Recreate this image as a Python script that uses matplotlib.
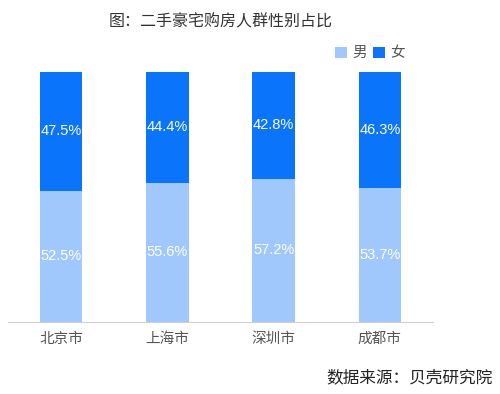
import matplotlib
matplotlib.use("Agg")
import matplotlib.pyplot as plt

plt.rcParams['font.family'] = ['Noto Sans CJK SC', 'DejaVu Sans']

cities = ['北京市', '上海市', '深圳市', '成都市']
male = [52.5, 55.6, 57.2, 53.7]
female = [47.5, 44.4, 42.8, 46.3]
series_names = ['男', '女']

c_male = '#a0c8fd'
c_female = '#0a74fb'

fig = plt.figure(figsize=(5, 3.94), dpi=100)
ax = fig.add_axes([0.016, 0.1827, 0.85, 0.635])
x = range(len(cities))
b1 = ax.bar(x, male, width=0.4, color=c_male, label=series_names[0])
b2 = ax.bar(x, female, width=0.4, bottom=male, color=c_female, label=series_names[1])
for i in x:
    ax.text(i, male[i] / 2, f'{male[i]}%', ha='center', va='center', color='white',
            fontsize=10.5, family=['Liberation Sans', 'DejaVu Sans'])
    ax.text(i, male[i] + female[i] / 2, f'{female[i]}%', ha='center', va='center', color='white',
            fontsize=10.5, family=['Liberation Sans', 'DejaVu Sans'])
ax.set_xlim(-0.5, 3.5)
ax.set_ylim(0, 100)
ax.set_xticks(list(x))
ax.set_xticklabels(cities, fontsize=10.5, color='#555555')
ax.tick_params(axis='x', length=0, pad=7)
ax.set_yticks([])
for s in ['top', 'right', 'left']:
    ax.spines[s].set_visible(False)
ax.spines['bottom'].set_color('#d0d0d0')

fig.text(0.442, 0.944, '图：二手豪宅购房人群性别占比', ha='center', va='center', fontsize=11.5, color='#333333')
leg = fig.legend(handles=[b1, b2], loc='center', bbox_to_anchor=(0.74, 0.865), ncol=2, frameon=False,
                 fontsize=10.5, handlelength=0.8, handleheight=0.8, columnspacing=0.4, handletextpad=0.4)
for t in leg.get_texts():
    t.set_color('#555555')
fig.text(0.986, 0.04, '数据来源：贝壳研究院', ha='right', va='center', fontsize=12, color='#222222')

fig.savefig('out.png', dpi=100)
